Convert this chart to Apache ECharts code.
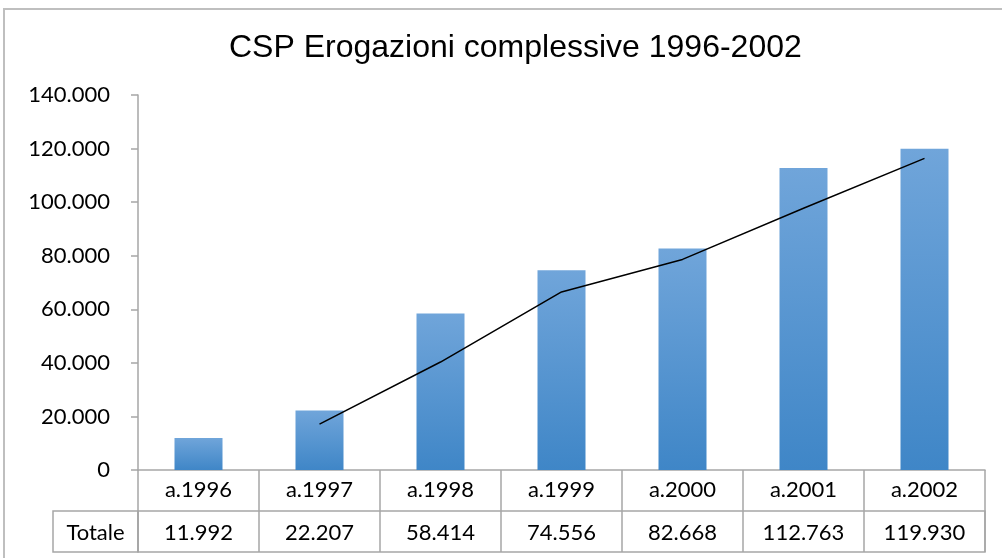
<!DOCTYPE html>
<html><head><meta charset="utf-8">
<script src="https://cdn.jsdelivr.net/npm/echarts@6/dist/echarts.min.js"></script>
<style>html,body{margin:0;padding:0;background:#fff}#c{width:1002px;height:558px}</style>
</head><body><div id="c"></div>
<script>
const categories = ['a.1996','a.1997','a.1998','a.1999','a.2000','a.2001','a.2002'];
const totale = [11992, 22207, 58414, 74556, 82668, 112763, 119930];
const trend = [null, 17100, 40310, 66485, 78612, 97716, 116347];
const rowLabel = ['Totale'];
const yMin = 0, yMax = 140000, yStep = 20000;

function fmt(v){ return String(Math.round(v)).replace(/\B(?=(\d{3})+(?!\d))/g, '.'); }

const GREY = '#a6a6a6';
const FONT = 'Lato';
const FS = 22;
const chart = echarts.init(document.getElementById('c'), null, {renderer:'canvas'});
chart.setOption({
  animation: false,
  backgroundColor: '#fff',
  title: {
    text: 'CSP Erogazioni complessive 1996-2002',
    left: 224, top: 27,
    textStyle: {fontFamily: 'Liberation Sans', fontSize: 32, fontWeight: 'normal', color: '#000'}
  },
  graphic: [{
    type: 'rect', shape: {x: 4, y: 9, width: 1020, height: 580},
    style: {fill: 'none', stroke: '#bfbfbf', lineWidth: 2}, silent: true
  }],
  grid: [
    {left: 138, right: 17, top: 95, bottom: 88},
    {left: 138, right: 17, top: 511, height: 41, show: true, borderColor: GREY, borderWidth: 1.5},
    {left: 53, width: 85, top: 511, height: 41, show: true, borderColor: GREY, borderWidth: 1.5}
  ],
  xAxis: [
    {type: 'category', gridIndex: 0, data: categories,
     axisLine: {lineStyle: {color: GREY, width: 1.5}},
     axisTick: {show: true, length: 41, lineStyle: {color: GREY, width: 1.5}},
     axisLabel: {color: '#000', fontSize: FS, fontFamily: FONT, margin: 9}},
    {type: 'category', gridIndex: 1, data: categories, position: 'bottom',
     axisLine: {show: false}, axisTick: {show: false},
     splitLine: {show: true, lineStyle: {color: GREY, width: 1.5}},
     axisLabel: {inside: true, color: '#000', fontSize: FS, fontFamily: FONT, margin: 8,
       formatter: (v, i) => fmt(totale[i])}},
    {type: 'category', gridIndex: 2, data: rowLabel, position: 'bottom',
     axisLine: {show: false}, axisTick: {show: false},
     axisLabel: {inside: true, color: '#000', fontSize: FS, fontFamily: FONT, margin: 8}}
  ],
  yAxis: [
    {type: 'value', gridIndex: 0, min: yMin, max: yMax, interval: yStep,
     axisLine: {show: true, lineStyle: {color: GREY, width: 1.5}},
     axisTick: {show: true, length: 7, lineStyle: {color: GREY, width: 1.5}},
     splitLine: {show: false},
     axisLabel: {color: '#000', fontSize: FS, fontFamily: FONT, margin: 28, formatter: v => fmt(v)}},
    {type: 'value', gridIndex: 1, show: false},
    {type: 'value', gridIndex: 2, show: false}
  ],
  series: [
    {type: 'bar', xAxisIndex: 0, yAxisIndex: 0, data: totale, barWidth: 48,
     itemStyle: {color: new echarts.graphic.LinearGradient(0, 0, 0, 1, [
       {offset: 0, color: '#70a5da'}, {offset: 1, color: '#3f86c7'}])}},
    {type: 'line', xAxisIndex: 0, yAxisIndex: 0, data: trend, symbol: 'none',
     connectNulls: false, lineStyle: {color: '#000', width: 1.5}, z: 5}
  ]
});
</script></body></html>
